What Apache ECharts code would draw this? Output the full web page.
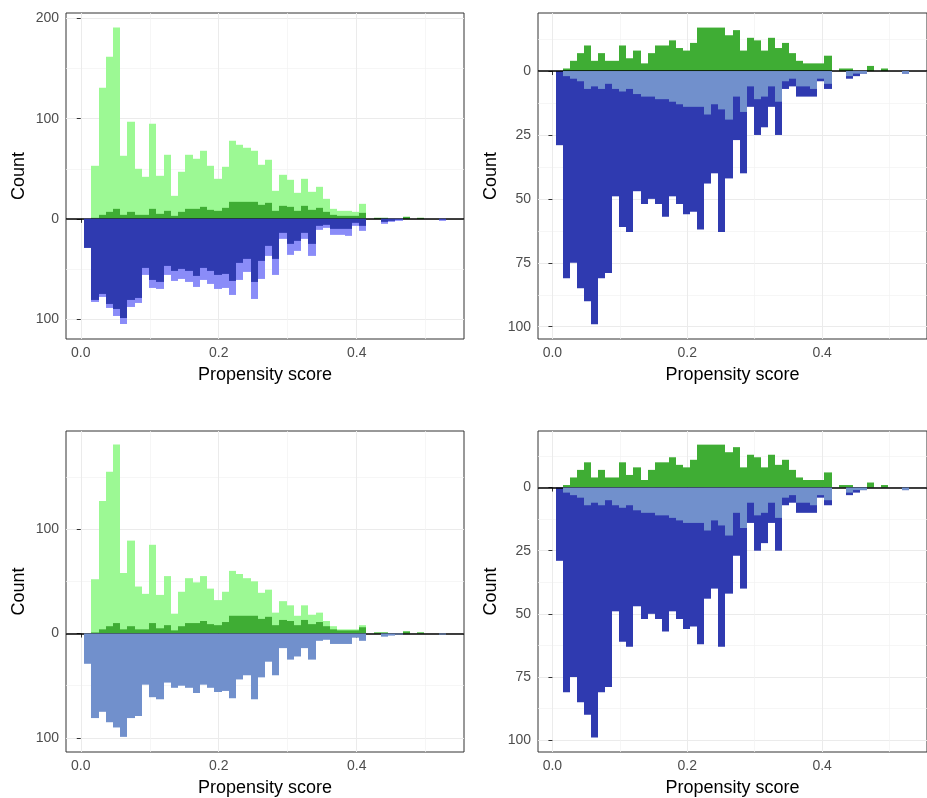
<!DOCTYPE html>
<html>
<head>
<meta charset="utf-8">
<script src="https://cdn.jsdelivr.net/npm/echarts@6/dist/echarts.min.js"></script>
<style>
html, body { margin: 0; padding: 0; background: #fff; }
#chart { width: 927px; height: 798px; }
</style>
</head>
<body>
<div id="chart"></div>
<script>
// 50 histogram bins: left edge of the first bin and bin width (propensity score)
var binStart = 0.0048;
var binWidth = 0.01049;

// treated, all (top-left light green)
var greenAll = [0, 53, 131, 162, 191, 63, 97, 50, 42, 95, 43, 64, 23, 47, 64, 60, 68, 53, 40, 52,
    78, 74, 71, 68, 54, 59, 28, 44, 39, 26, 40, 27, 32, 20, 10, 8, 8, 7, 15, 0,
    1, 1, 0, 0, 2, 0, 1, 0, 0, 0];
// treated, all (bottom-left light green)
var greenAllB = [0, 52, 127, 155, 181, 58, 89, 45, 38, 85, 37, 55, 19, 40, 53, 49, 55, 43, 32, 40,
    60, 57, 53, 50, 39, 42, 20, 31, 27, 17, 27, 18, 20, 12, 7, 4, 4, 4, 8, 0,
    1, 1, 0, 0, 2, 0, 1, 0, 0, 0];
// treated, matched (dark green)
var greenMatched = [0, 1, 4, 7, 10, 4, 7, 4, 4, 10, 5, 8, 3, 7, 10, 10, 12, 9, 8, 11,
    17, 17, 17, 17, 14, 16, 8, 13, 12, 8, 13, 9, 11, 7, 4, 3, 3, 3, 6, 0,
    1, 1, 0, 0, 2, 0, 1, 0, 0, 0];
// control, all (top-left lavender)
var blueAll = [29, 83, 78, 89, 97, 105, 88, 84, 56, 69, 70, 56, 62, 60, 63, 68, 61, 65, 70, 69,
    76, 61, 53, 80, 60, 37, 56, 20, 36, 32, 20, 37, 11, 9, 16, 16, 17, 7, 12, 0,
    0, 5, 3, 2, 0, 0, 0, 0, 0, 2];
// control, matched (dark blue)
var blueMatched = [29, 81, 75, 85, 90, 99, 81, 79, 49, 61, 63, 47, 52, 50, 52, 57, 49, 52, 56, 55,
    62, 44, 40, 63, 42, 27, 40, 14, 25, 22, 14, 25, 7, 6, 10, 10, 10, 4, 7, 0,
    0, 3, 2, 1, 0, 0, 0, 0, 0, 1];
// control, light part in the right panels
var blueExtra = [0, 2, 3, 4, 7, 6, 7, 5, 7, 8, 7, 9, 10, 10, 11, 11, 12, 13, 14, 14,
    14, 17, 13, 15, 19, 10, 16, 6, 11, 10, 6, 12, 4, 3, 6, 6, 7, 3, 5, 0,
    0, 2, 1, 1, 0, 0, 0, 0, 0, 1];

var xMajor = [0, 0.2, 0.4];
var xMinor = [0.1, 0.3, 0.5];

var lightGreen = '#9CF994';
var darkGreen = '#3FAD34';
var darkBlue = '#2F3AB0';
var lavender = '#8A8CF8';
var steel = '#7190CC';
var font = 'Liberation Sans, Arial, sans-serif';

var panels = [
    {left: 66, top: 13, height: 326, ymin: -120, ymax: 205.6, inverse: false,
        yMajor: [-100, 0, 100, 200], yMinor: [-50, 50, 150],
        layers: [[greenAll, 1, lightGreen], [greenMatched, 1, darkGreen], [blueAll, -1, lavender], [blueMatched, -1, darkBlue]]},
    {left: 538, top: 13, height: 326, ymin: -22.7, ymax: 104.8, inverse: true,
        yMajor: [0, 25, 50, 75, 100], yMinor: [-12.5, 12.5, 37.5, 62.5, 87.5],
        layers: [[greenMatched, -1, darkGreen], [blueMatched, 1, darkBlue], [blueExtra, 1, steel]]},
    {left: 66, top: 431, height: 325, ymin: -113.5, ymax: 194, inverse: false,
        yMajor: [-100, 0, 100], yMinor: [-50, 50, 150],
        layers: [[greenAllB, 1, lightGreen], [greenMatched, 1, darkGreen], [blueMatched, -1, steel]]},
    {left: 538, top: 431, height: 325, ymin: -22.4, ymax: 104.7, inverse: true,
        yMajor: [0, 25, 50, 75, 100], yMinor: [-12.5, 12.5, 37.5, 62.5, 87.5],
        layers: [[greenMatched, -1, darkGreen], [blueMatched, 1, darkBlue], [blueExtra, 1, steel]]}
];

function histItem(color) {
    return function (params, api) {
        var a = api.coord([api.value(0), 0]);
        var b = api.coord([api.value(1), api.value(2)]);
        var x0 = Math.round(Math.min(a[0], b[0]));
        var x1 = Math.round(Math.max(a[0], b[0]));
        return {
            type: 'rect',
            shape: {x: x0, y: Math.min(a[1], b[1]), width: x1 - x0, height: Math.abs(b[1] - a[1])},
            style: {fill: color}
        };
    };
}

function binData(values, sign) {
    var out = [];
    for (var i = 0; i < values.length; i++) {
        if (values[i] > 0) {
            out.push([binStart + i * binWidth, binStart + (i + 1) * binWidth, sign * values[i]]);
        }
    }
    return out;
}

var grid = [], xAxis = [], yAxis = [], series = [];

panels.forEach(function (p, k) {
    grid.push({left: p.left, top: p.top, width: 398, height: p.height,
        show: true, borderColor: '#333', borderWidth: 1, backgroundColor: '#fff'});
    // major axes
    xAxis.push({
        gridIndex: k, type: 'value', min: -0.0214, max: 0.5555,
        name: 'Propensity score', nameLocation: 'middle', nameGap: 27,
        nameTextStyle: {color: '#000', fontSize: 18, fontFamily: font},
        axisLine: {show: false},
        axisTick: {show: true, length: 4, customValues: xMajor, lineStyle: {color: '#333'}},
        axisLabel: {customValues: xMajor, margin: 7, color: '#4D4D4D', fontSize: 14, fontFamily: font,
            formatter: function (v) { return v.toFixed(1); }},
        splitLine: {show: true, lineStyle: {color: '#EBEBEB', width: 1}}
    });
    // minor grid lines
    xAxis.push({
        gridIndex: k, type: 'value', min: -0.0214, max: 0.5555, position: 'top',
        axisLine: {show: false}, axisLabel: {show: false},
        axisTick: {show: false, customValues: xMinor},
        splitLine: {show: true, lineStyle: {color: '#F2F2F2', width: 0.7}}
    });
    yAxis.push({
        gridIndex: k, type: 'value', min: p.ymin, max: p.ymax, inverse: p.inverse,
        name: 'Count', nameLocation: 'middle', nameGap: 38,
        nameTextStyle: {color: '#000', fontSize: 18, fontFamily: font},
        axisLine: {show: false},
        axisTick: {show: true, length: 4, customValues: p.yMajor, lineStyle: {color: '#333'}},
        axisLabel: {customValues: p.yMajor, margin: 7, color: '#4D4D4D', fontSize: 14, fontFamily: font,
            formatter: function (v) { return String(Math.abs(v)); }},
        splitLine: {show: true, lineStyle: {color: '#EBEBEB', width: 1}}
    });
    yAxis.push({
        gridIndex: k, type: 'value', min: p.ymin, max: p.ymax, inverse: p.inverse, position: 'right',
        axisLine: {show: false}, axisLabel: {show: false},
        axisTick: {show: false, customValues: p.yMinor},
        splitLine: {show: true, lineStyle: {color: '#F2F2F2', width: 0.7}}
    });

    p.layers.forEach(function (layer, j) {
        var s = {
            type: 'custom',
            xAxisIndex: 2 * k, yAxisIndex: 2 * k,
            renderItem: histItem(layer[2]),
            encode: {x: [0, 1], y: 2},
            data: binData(layer[0], layer[1]),
            silent: true,
            z: 3 + j
        };
        if (j === p.layers.length - 1) {
            s.markLine = {
                silent: true, symbol: 'none', animation: false,
                label: {show: false},
                lineStyle: {color: '#000', width: 1.5, type: 'solid'},
                data: [{yAxis: 0}]
            };
        }
        series.push(s);
    });
});

var chart = echarts.init(document.getElementById('chart'));
chart.setOption({
    animation: false,
    backgroundColor: '#fff',
    grid: grid,
    xAxis: xAxis,
    yAxis: yAxis,
    series: series
});
</script>
</body>
</html>
